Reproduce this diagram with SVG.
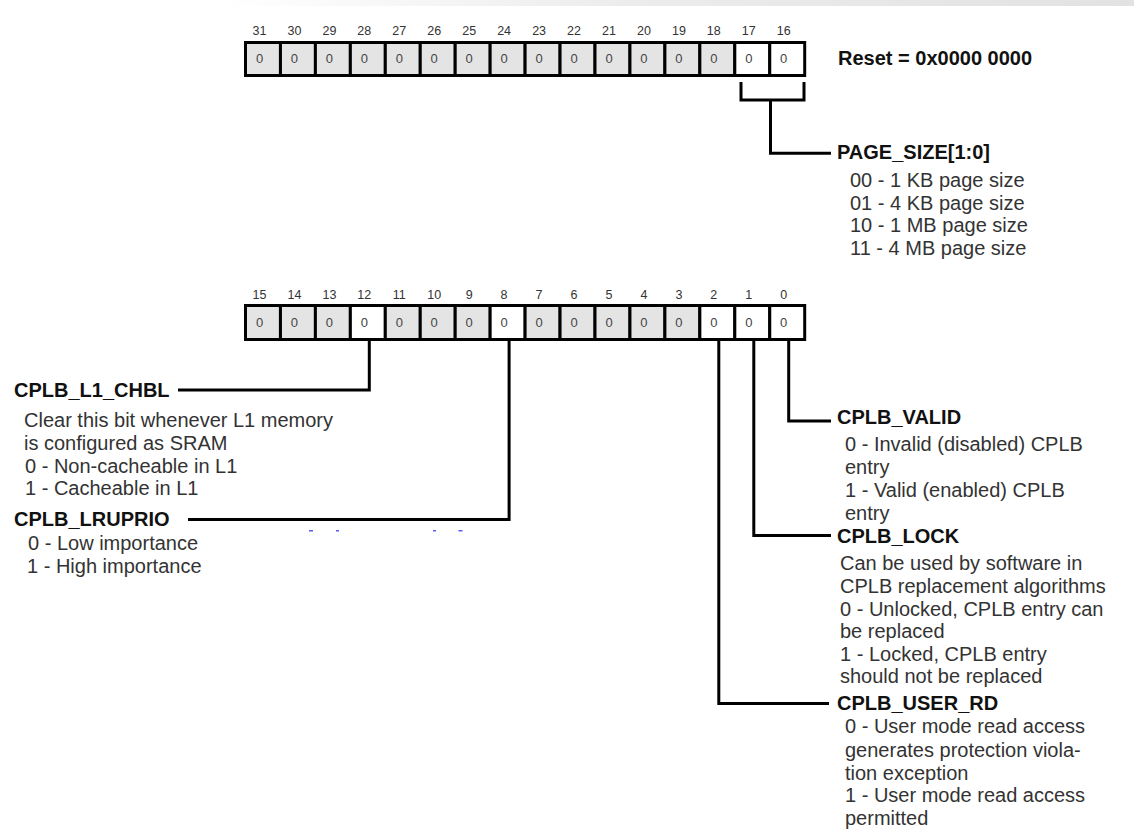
<svg xmlns="http://www.w3.org/2000/svg" width="1134" height="839" viewBox="0 0 1134 839">
<defs>
<linearGradient id="topband" x1="0" y1="0" x2="1" y2="0">
<stop offset="0" stop-color="#ffffff"/>
<stop offset="0.45" stop-color="#ececec"/>
<stop offset="1" stop-color="#e2e2e2"/>
</linearGradient>
<style>
.lbl{font-family:"Liberation Sans",Arial,sans-serif;font-weight:bold;font-size:20px;fill:#111}
.txt{font-family:"Liberation Sans",Arial,sans-serif;font-size:20px;fill:#333}
.bit{font-family:"Liberation Sans",Arial,sans-serif;font-size:12.5px;fill:#333;text-anchor:middle}
.val{font-family:"Liberation Sans",Arial,sans-serif;font-size:13px;fill:#444;text-anchor:middle}
.cg{fill:#e4e4e4;stroke:#000;stroke-width:3}
.cw{fill:#ffffff;stroke:#000;stroke-width:3}
.wire{fill:none;stroke:#000;stroke-width:3}
.dot{fill:#5a5aff}
</style>
</defs>
<rect x="0" y="0" width="1134" height="839" fill="#ffffff"/>
<rect x="220" y="0" width="914" height="6" fill="url(#topband)"/>

<g id="register-high">
<g class="bits">
<text class="bit" x="259.5" y="35">31</text>
<text class="bit" x="294.4" y="35">30</text>
<text class="bit" x="329.4" y="35">29</text>
<text class="bit" x="364.3" y="35">28</text>
<text class="bit" x="399.3" y="35">27</text>
<text class="bit" x="434.2" y="35">26</text>
<text class="bit" x="469.2" y="35">25</text>
<text class="bit" x="504.1" y="35">24</text>
<text class="bit" x="539.1" y="35">23</text>
<text class="bit" x="574.0" y="35">22</text>
<text class="bit" x="609.0" y="35">21</text>
<text class="bit" x="643.9" y="35">20</text>
<text class="bit" x="678.9" y="35">19</text>
<text class="bit" x="713.8" y="35">18</text>
<text class="bit" x="748.8" y="35">17</text>
<text class="bit" x="783.7" y="35">16</text>
</g>
<rect class="cg" x="245.5" y="42.5" width="34.95" height="33"/>
<rect class="cg" x="280.45" y="42.5" width="34.95" height="33"/>
<rect class="cg" x="315.4" y="42.5" width="34.95" height="33"/>
<rect class="cg" x="350.35" y="42.5" width="34.95" height="33"/>
<rect class="cg" x="385.3" y="42.5" width="34.95" height="33"/>
<rect class="cg" x="420.25" y="42.5" width="34.95" height="33"/>
<rect class="cg" x="455.2" y="42.5" width="34.95" height="33"/>
<rect class="cg" x="490.15" y="42.5" width="34.95" height="33"/>
<rect class="cg" x="525.1" y="42.5" width="34.95" height="33"/>
<rect class="cg" x="560.05" y="42.5" width="34.95" height="33"/>
<rect class="cg" x="595.0" y="42.5" width="34.95" height="33"/>
<rect class="cg" x="629.95" y="42.5" width="34.95" height="33"/>
<rect class="cg" x="664.9" y="42.5" width="34.95" height="33"/>
<rect class="cg" x="699.85" y="42.5" width="34.95" height="33"/>
<rect class="cw" x="734.8" y="42.5" width="34.95" height="33"/>
<rect class="cw" x="769.75" y="42.5" width="34.95" height="33"/>
<g class="vals">
<text class="val" x="259.5" y="62.5">0</text>
<text class="val" x="294.4" y="62.5">0</text>
<text class="val" x="329.4" y="62.5">0</text>
<text class="val" x="364.3" y="62.5">0</text>
<text class="val" x="399.3" y="62.5">0</text>
<text class="val" x="434.2" y="62.5">0</text>
<text class="val" x="469.2" y="62.5">0</text>
<text class="val" x="504.1" y="62.5">0</text>
<text class="val" x="539.1" y="62.5">0</text>
<text class="val" x="574.0" y="62.5">0</text>
<text class="val" x="609.0" y="62.5">0</text>
<text class="val" x="643.9" y="62.5">0</text>
<text class="val" x="678.9" y="62.5">0</text>
<text class="val" x="713.8" y="62.5">0</text>
<text class="val" x="748.8" y="62.5">0</text>
<text class="val" x="783.7" y="62.5">0</text>
</g>
</g>

<g id="reset">
<text class="lbl" x="838" y="65">Reset = 0x0000 0000</text>
</g>

<g id="page-size">
<text class="lbl" x="837" y="159">PAGE_SIZE[1:0]</text>
<text class="txt" x="850" y="187">00 - 1 KB page size</text>
<text class="txt" x="850" y="209.5">01 - 4 KB page size</text>
<text class="txt" x="850" y="232">10 - 1 MB page size</text>
<text class="txt" x="850" y="254.5">11 - 4 MB page size</text>
</g>

<g id="register-low">
<g class="bits">
<text class="bit" x="259.5" y="299">15</text>
<text class="bit" x="294.4" y="299">14</text>
<text class="bit" x="329.4" y="299">13</text>
<text class="bit" x="364.3" y="299">12</text>
<text class="bit" x="399.3" y="299">11</text>
<text class="bit" x="434.2" y="299">10</text>
<text class="bit" x="469.2" y="299">9</text>
<text class="bit" x="504.1" y="299">8</text>
<text class="bit" x="539.1" y="299">7</text>
<text class="bit" x="574.0" y="299">6</text>
<text class="bit" x="609.0" y="299">5</text>
<text class="bit" x="643.9" y="299">4</text>
<text class="bit" x="678.9" y="299">3</text>
<text class="bit" x="713.8" y="299">2</text>
<text class="bit" x="748.8" y="299">1</text>
<text class="bit" x="783.7" y="299">0</text>
</g>
<rect class="cg" x="245.5" y="305.5" width="34.95" height="34"/>
<rect class="cg" x="280.45" y="305.5" width="34.95" height="34"/>
<rect class="cg" x="315.4" y="305.5" width="34.95" height="34"/>
<rect class="cw" x="350.35" y="305.5" width="34.95" height="34"/>
<rect class="cg" x="385.3" y="305.5" width="34.95" height="34"/>
<rect class="cg" x="420.25" y="305.5" width="34.95" height="34"/>
<rect class="cg" x="455.2" y="305.5" width="34.95" height="34"/>
<rect class="cw" x="490.15" y="305.5" width="34.95" height="34"/>
<rect class="cg" x="525.1" y="305.5" width="34.95" height="34"/>
<rect class="cg" x="560.05" y="305.5" width="34.95" height="34"/>
<rect class="cg" x="595.0" y="305.5" width="34.95" height="34"/>
<rect class="cg" x="629.95" y="305.5" width="34.95" height="34"/>
<rect class="cg" x="664.9" y="305.5" width="34.95" height="34"/>
<rect class="cw" x="699.85" y="305.5" width="34.95" height="34"/>
<rect class="cw" x="734.8" y="305.5" width="34.95" height="34"/>
<rect class="cw" x="769.75" y="305.5" width="34.95" height="34"/>
<g class="vals">
<text class="val" x="259.5" y="327">0</text>
<text class="val" x="294.4" y="327">0</text>
<text class="val" x="329.4" y="327">0</text>
<text class="val" x="364.3" y="327">0</text>
<text class="val" x="399.3" y="327">0</text>
<text class="val" x="434.2" y="327">0</text>
<text class="val" x="469.2" y="327">0</text>
<text class="val" x="504.1" y="327">0</text>
<text class="val" x="539.1" y="327">0</text>
<text class="val" x="574.0" y="327">0</text>
<text class="val" x="609.0" y="327">0</text>
<text class="val" x="643.9" y="327">0</text>
<text class="val" x="678.9" y="327">0</text>
<text class="val" x="713.8" y="327">0</text>
<text class="val" x="748.8" y="327">0</text>
<text class="val" x="783.7" y="327">0</text>
</g>
</g>

<g id="cplb-l1-chbl">
<text class="lbl" x="14" y="397">CPLB_L1_CHBL</text>
<text class="txt" x="24" y="427">Clear this bit whenever L1 memory</text>
<text class="txt" x="24" y="450">is configured as SRAM</text>
<text class="txt" x="25" y="472.5">0 - Non-cacheable in L1</text>
<text class="txt" x="25" y="495">1 - Cacheable in L1</text>
</g>

<g id="cplb-lruprio">
<text class="lbl" x="14" y="526">CPLB_LRUPRIO</text>
<text class="txt" x="28" y="550">0 - Low importance</text>
<text class="txt" x="27" y="573">1 - High importance</text>
</g>

<g id="cplb-valid">
<text class="lbl" x="837" y="424">CPLB_VALID</text>
<text class="txt" x="845" y="451">0 - Invalid (disabled) CPLB</text>
<text class="txt" x="845" y="474">entry</text>
<text class="txt" x="845" y="497">1 - Valid (enabled) CPLB</text>
<text class="txt" x="845" y="520">entry</text>
</g>

<g id="cplb-lock">
<text class="lbl" x="837" y="543">CPLB_LOCK</text>
<text class="txt" x="840" y="570">Can be used by software in</text>
<text class="txt" x="840" y="593">CPLB replacement algorithms</text>
<text class="txt" x="840" y="615.5">0 - Unlocked, CPLB entry can</text>
<text class="txt" x="840" y="638">be replaced</text>
<text class="txt" x="840" y="660.5">1 - Locked, CPLB entry</text>
<text class="txt" x="840" y="683">should not be replaced</text>
</g>

<g id="cplb-user-rd">
<text class="lbl" x="837" y="710">CPLB_USER_RD</text>
<text class="txt" x="845" y="733">0 - User mode read access</text>
<text class="txt" x="845" y="756.5">generates protection viola-</text>
<text class="txt" x="845" y="779.5">tion exception</text>
<text class="txt" x="845" y="802">1 - User mode read access</text>
<text class="txt" x="845" y="825">permitted</text>
</g>

<g id="connectors">
<path class="wire" d="M741,82 V100 H804 V82"/>
<path class="wire" d="M770.5,100 V153.3 H831"/>
<path class="wire" d="M369.3,340 V390 H178"/>
<path class="wire" d="M509.1,340 V519.5 H188"/>
<path class="wire" d="M718.8,340 V703.5 H829"/>
<path class="wire" d="M753.8,340 V535.5 H831"/>
<path class="wire" d="M788.7,340 V421 H831"/>
</g>

<g id="artifacts">
<rect class="dot" x="309" y="530" width="4" height="1.5"/>
<rect class="dot" x="336" y="530" width="3" height="1.5"/>
<rect class="dot" x="433" y="530" width="3" height="1.5"/>
<rect class="dot" x="458.5" y="530" width="4" height="1.5"/>
</g>
</svg>
